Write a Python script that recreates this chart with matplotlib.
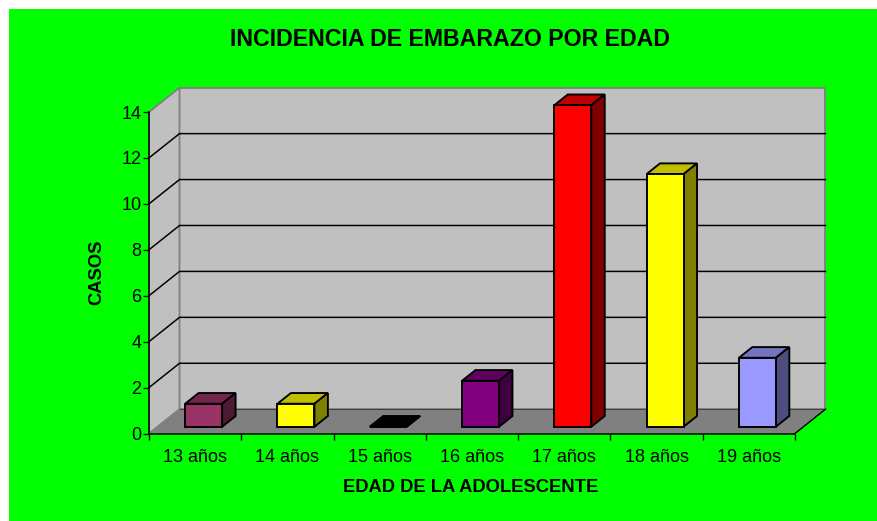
import matplotlib
matplotlib.use("Agg")
import matplotlib.pyplot as plt
from matplotlib.patches import Polygon, Rectangle
from matplotlib.colors import to_rgb

plt.rcParams['font.family'] = ['Liberation Sans', 'DejaVu Sans']

categories = ['13 años', '14 años', '15 años', '16 años', '17 años', '18 años', '19 años']
values = [1, 1, 0, 2, 14, 11, 3]
colors = ['#993366', '#FFFF00', '#000000', '#800080', '#FF0000', '#FFFF00', '#9999FF']
yticks = [0, 2, 4, 6, 8, 10, 12, 14]

W, H = 878, 521
fig = plt.figure(figsize=(W / 100, H / 100), dpi=100, facecolor='white')
fig.add_artist(Rectangle((9 / W, 0), (W - 9) / W, (H - 9) / H,
                         transform=fig.transFigure, facecolor='#00FF00', edgecolor='none',
                         zorder=-5))

L, R, T, B = 149, 795, 112, 433.5
ax = fig.add_axes([L / W, 1 - B / H, (R - L) / W, (B - T) / H])
ax.patch.set_visible(False)
ax.set_xlim(0, len(categories))
ax.set_ylim(0, 14)
ax.margins(0)

# oblique depth vector in data units
DX = 30.5 / ((R - L) / len(categories))
DY = 24.3 / ((B - T) / 14)


def P(x, y, f=0.0):
    return (x + f * DX, y + f * DY)


n = len(categories)
px = 0.72
# walls and floor
ax.add_patch(Polygon([P(0, 0, 1), P(n, 0, 1), P(n, 14, 1), P(0, 14, 1)], closed=True,
                     fc='#C0C0C0', ec='#808080', lw=1.8 * px, zorder=1, clip_on=False))
ax.add_patch(Polygon([P(0, 0), P(0, 0, 1), P(0, 14, 1), P(0, 14)], closed=True,
                     fc='#C0C0C0', ec='#808080', lw=1.8 * px, zorder=1, clip_on=False))
ax.add_patch(Polygon([P(0, 0), P(n, 0), P(n, 0, 1), P(0, 0, 1)], closed=True,
                     fc='#808080', ec='none', zorder=1, clip_on=False))
# gridlines
for v in yticks[1:-1]:
    a, b, c = P(0, v), P(0, v, 1), P(n, v, 1)
    ax.plot([a[0], b[0], c[0]], [a[1], b[1], c[1]], color='#000000', lw=1.5 * px,
            zorder=2, clip_on=False, solid_joinstyle='miter')
# floor edges
a, b = P(0, 0, 1), P(n, 0, 1)
ax.plot([a[0], b[0]], [a[1], b[1]], color='#404040', lw=1.0 * px, zorder=2, clip_on=False)
c, d = P(n, 0), P(n, 0, 1)
ax.plot([c[0], d[0]], [c[1], d[1]], color='#000000', lw=1.4 * px, zorder=3, clip_on=False)
a, b = P(0, 0), P(0, 0, 1)
ax.plot([a[0], b[0]], [a[1], b[1]], color='#808080', lw=1.0 * px, zorder=2, clip_on=False)

# bars
bw = 37.0 / ((R - L) / n)
f0, f1 = 0.28, 0.72


def shade(col, k):
    return tuple(k * ch for ch in to_rgb(col))


for i, (val, col) in enumerate(zip(values, colors)):
    x0 = i + 0.5 - bw / 2
    x1 = i + 0.5 + bw / 2
    kw = dict(closed=True, ec='#000000', lw=1.9 * px, zorder=5, clip_on=False,
              joinstyle='miter')
    ax.add_patch(Polygon([P(x0, val, f0), P(x1, val, f0), P(x1, val, f1), P(x0, val, f1)],
                         fc=shade(col, 0.75), **kw))
    ax.add_patch(Polygon([P(x1, 0, f0), P(x1, 0, f1), P(x1, val, f1), P(x1, val, f0)],
                         fc=shade(col, 0.5), **kw))
    ax.add_patch(Polygon([P(x0, 0, f0), P(x1, 0, f0), P(x1, val, f0), P(x0, val, f0)],
                         fc=col, **kw))

# axes
for s in ('top', 'right'):
    ax.spines[s].set_visible(False)
for s in ('left', 'bottom'):
    ax.spines[s].set_linewidth(1.5 * px)
    ax.spines[s].set_color('#000000')
    ax.spines[s].set_zorder(6)
ax.set_yticks(yticks)
ax.set_yticklabels([str(v) for v in yticks], fontsize=13)
ax.set_xticks(range(n + 1))
ax.set_xticklabels([''] * (n + 1))
ax.set_xticks([i + 0.5 for i in range(n)], minor=True)
ax.set_xticklabels(categories, minor=True, fontsize=13)
ax.tick_params(axis='y', length=4, width=1.3 * px, pad=1.5)
ax.tick_params(axis='x', which='major', length=4, width=1.3 * px)
ax.tick_params(axis='x', which='minor', length=0, pad=11)

fig.text(450.5 / W, 1 - 40 / H, 'INCIDENCIA DE EMBARAZO POR EDAD', ha='center', va='center',
         fontsize=16.7, fontweight='bold', color='#000000')
fig.text(470.5 / W, 1 - 487 / H, 'EDAD DE LA ADOLESCENTE', ha='center', va='center',
         fontsize=13.2, fontweight='bold', color='#000000')
fig.text(96.5 / W, 1 - 272 / H, 'CASOS', ha='center', va='center', rotation=90,
         fontsize=13.2, fontweight='bold', color='#000000')

fig.savefig('out.png', dpi=100, facecolor='white')
